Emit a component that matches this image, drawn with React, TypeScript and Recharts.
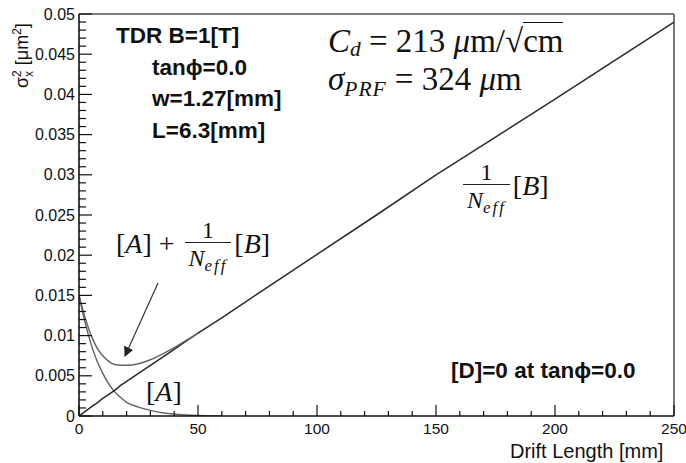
import React from "react";
import { LineChart, Line, XAxis, YAxis, ReferenceLine } from "recharts";

// drift length [mm]
const driftX = [0, 2.5, 5, 7.5, 10, 12.5, 15, 17.5, 20, 25, 30, 35, 40, 45, 50, 60, 75, 100, 125, 150, 175, 200, 225, 250];
// [A] term
const termA = [0.015, 0.0117, 0.009, 0.0069, 0.0053, 0.004, 0.003, 0.0023, 0.0017, 0.0011, 0.0007, 0.0004, 0.00025, 0.00012, 0.00005, 0, null, null, null, null, null, null, null, null];
// 1/Neff [B] term
const termB = [0, 0.00055, 0.0011, 0.0016, 0.0022, 0.0027, 0.0032, 0.0038, 0.0043, 0.0053, 0.0063, 0.0073, 0.0083, 0.0093, 0.0103, 0.0122, 0.0152, 0.0201, 0.025, 0.03, 0.0347, 0.0394, 0.0442, 0.049];
// [A] + 1/Neff [B]
const termSum = [0.015, 0.0123, 0.0101, 0.0085, 0.0075, 0.0068, 0.0064, 0.0063, 0.0063, 0.0065, 0.007, 0.0077, 0.0085, 0.0094, 0.0103, null, null, null, null, null, null, null, null, null];

const xMajor = [0, 50, 100, 150, 200, 250];
const yMajor = [0, 0.005, 0.01, 0.015, 0.02, 0.025, 0.03, 0.035, 0.04, 0.045, 0.05];
const xLabels = ["0", "50", "100", "150", "200", "250"];
const yLabels = ["0", "0.005", "0.01", "0.015", "0.02", "0.025", "0.03", "0.035", "0.04", "0.045", "0.05"];

const xTicks: number[] = [];
for (let i = 0; i <= 25; i++) xTicks.push(i * 10);
const yTicks: number[] = [];
for (let i = 0; i <= 50; i++) yTicks.push(i / 1000);

const rows = driftX.map((x, i) => ({ x, a: termA[i], b: termB[i], sum: termSum[i] }));

const majorIndex = (list: number[], v: number) => list.findIndex((m) => Math.abs(m - v) < 1e-9);

const sans = "'Liberation Sans', Arial, sans-serif";
const serif = "'Liberation Serif', 'Times New Roman', serif";

function XTick(props: any) {
  const { x, y, payload } = props;
  const idx = majorIndex(xMajor, payload.value);
  const len = idx >= 0 ? 11 : 5;
  return (
    <g>
      <line x1={x} x2={x} y1={y} y2={y - len} stroke="#111" strokeWidth={1.2} />
      {idx >= 0 && (
        <text x={x} y={y + 18} textAnchor="middle" fontFamily={sans} fontSize={15.5} fill="#111">
          {xLabels[idx]}
        </text>
      )}
    </g>
  );
}

function YTick(props: any) {
  const { x, y, payload } = props;
  const idx = majorIndex(yMajor, payload.value);
  const len = idx >= 0 ? 13 : 7;
  return (
    <g>
      <line x1={x} x2={x + len} y1={y} y2={y} stroke="#111" strokeWidth={1.2} />
      {idx >= 0 && (
        <text x={x - 4} y={y + 5.5} textAnchor="end" fontFamily={sans} fontSize={16} fill="#111">
          {yLabels[idx]}
        </text>
      )}
    </g>
  );
}

function Frac(props: { size: number }) {
  return (
    <span style={{ display: "inline-flex", flexDirection: "column", alignItems: "center", verticalAlign: "middle", margin: "0 3px" }}>
      <span style={{ lineHeight: 1, fontSize: props.size }}>1</span>
      <span style={{ borderTop: "1.5px solid #222", padding: "3px 4px 0", lineHeight: 1, fontStyle: "italic", fontSize: props.size }}>
        N<span style={{ fontSize: "0.7em", position: "relative", top: "0.3em", letterSpacing: 2 }}>eff</span>
      </span>
    </span>
  );
}

const box = (left: number, top: number, extra: React.CSSProperties = {}): React.CSSProperties => ({
  position: "absolute",
  left,
  top,
  whiteSpace: "nowrap",
  color: "#111",
  ...extra,
});

export default function App() {
  return (
    <div style={{ position: "absolute", left: 0, top: 0, width: 686, height: 463, background: "#fff" }}>
      <LineChart width={686} height={463} data={rows} margin={{ top: 14, right: 12, bottom: 17, left: 19 }}>
        <XAxis
          dataKey="x"
          type="number"
          domain={[0, 250]}
          ticks={xTicks}
          interval={0}
          height={30}
          tickSize={0}
          tickMargin={0}
          tickLine={false}
          axisLine={{ stroke: "#111", strokeWidth: 1.6 }}
          tick={<XTick />}
          allowDataOverflow
        />
        <YAxis
          type="number"
          domain={[0, 0.05]}
          ticks={yTicks}
          interval={0}
          width={60}
          tickSize={0}
          tickMargin={0}
          tickLine={false}
          axisLine={{ stroke: "#111", strokeWidth: 1.6 }}
          tick={<YTick />}
          allowDataOverflow
        />
        <ReferenceLine y={0.05} stroke="#555" strokeWidth={1.6} />
        <ReferenceLine x={250} stroke="#555" strokeWidth={1.6} />
        <Line type="monotone" dataKey="a" stroke="#666" strokeWidth={1.5} dot={false} isAnimationActive={false} />
        <Line type="linear" dataKey="b" stroke="#2a2a2a" strokeWidth={1.5} dot={false} isAnimationActive={false} />
        <Line type="monotone" dataKey="sum" stroke="#666" strokeWidth={1.5} dot={false} isAnimationActive={false} />
      </LineChart>

      {/* axis titles */}
      <div style={box(10, 88, { fontFamily: sans, fontSize: 18, transform: "rotate(-90deg)", transformOrigin: "0 0" })}>
        σ<span style={{ display: "inline-flex", flexDirection: "column", fontSize: 12, lineHeight: 1, verticalAlign: "middle" }}>
          <span>2</span>
          <span>x</span>
        </span>{" "}
        [μm<sup style={{ fontSize: 12 }}>2</sup>]
      </div>
      <div style={box(510, 441, { fontFamily: sans, fontSize: 20, lineHeight: 1 })}>Drift Length [mm]</div>

      {/* parameter box */}
      <div style={box(116, 20, { fontFamily: sans, fontWeight: 700, fontSize: 22.5, lineHeight: "31.7px" })}>
        <div>TDR B=1[T]</div>
        <div style={{ paddingLeft: 36 }}>tanϕ=0.0</div>
        <div style={{ paddingLeft: 36 }}>w=1.27[mm]</div>
        <div style={{ paddingLeft: 36 }}>L=6.3[mm]</div>
      </div>
      <div style={box(451, 360, { fontFamily: sans, fontWeight: 700, fontSize: 22.5, lineHeight: 1 })}>[D]=0 at tanϕ=0.0</div>

      {/* fit parameters */}
      <div style={box(328, 24, { fontFamily: serif, fontSize: 33, lineHeight: "34px" })}>
        <div>
          <i>C</i>
          <i style={{ fontSize: "0.65em", position: "relative", top: "0.2em" }}>d</i> = 213 <i>μ</i>m/√<span style={{ borderTop: "1.5px solid #111" }}>cm</span>
        </div>
        <div>
          <i>σ</i>
          <i style={{ fontSize: "0.65em", position: "relative", top: "0.3em", letterSpacing: 1 }}>PRF</i> = 324 <i>μ</i>m
        </div>
      </div>

      {/* curve labels */}
      <div style={box(116, 218, { fontFamily: serif, fontSize: 28, lineHeight: 1, display: "flex", alignItems: "center" })}>
        [<i>A</i>]&nbsp;+&nbsp;<Frac size={24} />[<i>B</i>]
      </div>
      <div style={box(460, 160, { fontFamily: serif, fontSize: 28, lineHeight: 1, display: "flex", alignItems: "center" })}>
        <Frac size={24} />[<i>B</i>]
      </div>
      <div style={box(146, 378, { fontFamily: serif, fontSize: 28, lineHeight: 1 })}>
        [<i>A</i>]
      </div>

      {/* arrow */}
      <svg width={686} height={463} style={{ position: "absolute", left: 0, top: 0, pointerEvents: "none" }}>
        <defs>
          <marker id="head" markerWidth="10" markerHeight="10" refX="9" refY="5" orient="auto" markerUnits="userSpaceOnUse">
            <path d="M0,0 L10,5 L0,10 z" fill="#222" />
          </marker>
        </defs>
        <line x1={158} y1={283} x2={125} y2={356} stroke="#333" strokeWidth={1.2} markerEnd="url(#head)" />
      </svg>
    </div>
  );
}
